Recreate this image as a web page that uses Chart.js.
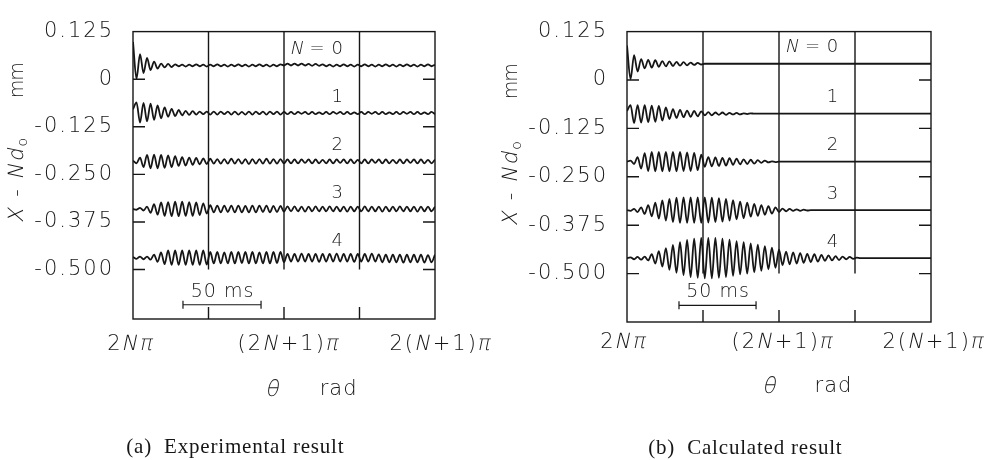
<!DOCTYPE html>
<html>
<head>
<meta charset="utf-8">
<script src="https://cdn.jsdelivr.net/npm/chart.js@4.4.0/dist/chart.umd.min.js"></script>
<style>
  html, body { margin: 0; padding: 0; background: #fff; }
  #wrap { position: relative; width: 1000px; height: 460px; }
  canvas { position: absolute; top: 0; }
  #chartA { left: 0; }
  #chartB { left: 500px; }
</style>
</head>
<body>
<div id="wrap">
  <canvas id="chartA" width="500" height="460"></canvas>
  <canvas id="chartB" width="500" height="460"></canvas>
</div>
<script>
// Axis ticks
const yTickValues = [0.125, 0, -0.125, -0.25, -0.375, -0.5];
const yTickLabels = ["0.125", "0", "-0.125", "-0.250", "-0.375", "-0.500"];
const xTickValues = [0, 1, 2];
const xTickLabels = ["2N\u03c0", "(2N+1)\u03c0", "2(N+1)\u03c0"];
const xGridValues = [0.5, 1, 1.5];
const traceNames = ["0", "1", "2", "3", "4"];

// One sample per half oscillation; x is (theta - 2N*pi) / pi
const X_MAX = 2;
const X_STEP = X_MAX / 86;

// Trace baselines, mm
const expBase = [0.036, -0.089, -0.216, -0.341, -0.469];
const calcBase = [0.042, -0.087, -0.211, -0.336, -0.46];

// Experimental traces: deviation from baseline at each half-cycle sample, um
const expN0 = [
   62,-35, 30,-20, 20,-12, 10, -8,  5, -5,  4, -4,
    3, -2,  2, -3,  2, -2,  3, -2,  2, -3,  2, -2,
    3, -2,  2, -3,  2, -2,  3, -2,  2, -3,  2, -2,
    3, -2,  2, -3,  2, -2,  3,  0,  5,  0,  5,  0,
    5,  0,  4, -1,  4, -1,  3, -2,  2, -3,  2, -2,
    3, -2,  2, -3,  2, -2,  3, -2,  2, -3,  2, -2,
    3, -2,  2, -3,  2, -2,  3, -2,  2, -3,  2, -2,
    3, -2,  2
];
const expN1 = [
   10, 28,-25, 27,-22, 25,-18, 20,-14, 15,-10, 11,
   -8,  8, -6,  6, -5,  5, -4,  4, -3,  4, -4,  4,
   -4,  4, -3,  4, -4,  4, -4,  3, -4,  4, -4,  4,
   -3,  4, -4,  4, -3,  4, -4,  3, -3,  3, -3,  3,
   -2,  3, -3,  3, -3,  2, -3,  3, -3,  3, -2,  3,
   -3,  3, -3,  2, -3,  3, -3,  3, -2,  3, -3,  3,
   -3,  2, -3,  3, -3,  3, -2,  3, -3,  3, -3,  2,
   -3,  3, -3
];
const expN2 = [
    2, -5, 10,-15, 17,-18, 18,-18, 17,-17, 16,-15,
   14,-12, 11,-11, 10, -9,  9, -8,  8, -7,  7, -6,
    6, -6,  6, -6,  7, -6,  6, -6,  6, -7,  6, -6,
    6, -6,  7, -6,  6, -6,  6, -5,  5, -5,  5, -5,
    5, -4,  5, -5,  5, -5,  4, -5,  5, -5,  5, -4,
    5, -5,  5, -5,  4, -5,  5, -5,  5, -4,  5, -5,
    5, -5,  4, -5,  5, -5,  5, -4,  5, -5,  5, -5,
    4, -5,  5
];
const expN3 = [
    0, -2,  3, -4,  6,-10, 13,-15, 17,-18, 18,-19,
   19,-19, 19,-18, 18,-18, 17,-16, 15,-12, 10, -9,
    9, -9,  9, -8,  9, -9,  9, -9,  8, -9,  9, -9,
    9, -8,  9, -9,  8, -8,  8, -7,  7, -6,  7, -6,
    6, -7,  6, -6,  7, -6,  6, -6,  7, -6,  6, -6,
    6, -7,  6, -6,  6, -6,  7, -6,  6, -6,  6, -7,
    6, -6,  6, -6,  7, -6,  6, -6,  6, -7,  6, -6,
    6, -6,  6
];
const expN4 = [
    2, -3,  3, -4,  3, -5,  8,-11, 14,-17, 19,-19,
   19,-19, 19,-19, 19,-19, 19,-19, 19,-18, 15,-15,
   15,-15, 14,-15, 15,-15, 15,-14, 15,-15, 15,-15,
   14,-15, 15,-15, 15,-14, 15,-12, 10,-10, 10,-10,
   11,-10, 10,-10, 10,-11, 10,-10, 10,-10, 11,-10,
   10,-10, 10,-11, 10,-10, 10,-10, 11,-10,  9,-12,
    8,-12,  8,-12,  8,-13,  8,-12,  8,-12,  8,-13,
    7,-12,  8
];

// Calculated traces: same sampling, flat once the oscillation has died out
const calcN0 = [47, -40, 22, -20, 12, -12, 10, -10, 9, -8, 7, -7, 6, -6, 5, -5, 4, -4, 3, -3, 2, -2, 0];
const calcN1 = [7, 22, -24, 22, -23, 22, -22, 21, -21, 20, -18, 16, -14, 12, -11, 10, -9, 8, -8, 7,
                -7, 6, -4, 4, -4, 3, -3, 3, -3, 2, -2, 2, -2, 1, -1, 1, 0];
const calcN2 = [0, 3, -6, 12, -18, 22, -24, 25, -25, 25, -25, 25, -25, 25, -25, 25, -24, 24, -24, 23,
                -22, 18, -13, 12, -12, 11, -11, 10, -10, 9, -8, 8, -7, 6, -6, 5, -5, 4, -3, 3,
                -2, 1, -1, 0];
const calcN3 = [0, -2, 3, -5, 7, -10, 13, -16, 19, -22, 25, -27, 29, -31, 32, -33, 33, -33, 33, -33,
                33, -33, 33, -32, 32, -31, 31, -30, 29, -27, 26, -24, 22, -21, 19, -17, 16, -15, 13, -12,
                10, -9, 7, -5, 4, -3, 3, -2, 2, -2, 1, -1, 0];
const calcN4 = [0, 2, -3, 3, -4, 4, -6, 10, -14, 18, -22, 26, -30, 34, -38, 41, -44, 47, -49, 50,
                -51, 52, -52, 52, -52, 52, -51, 50, -49, 48, -46, 44, -42, 41, -40, 38, -37, 35, -33, 31,
                -29, 27, -25, 22, -18, 17, -16, 15, -14, 13, -12, 11, -10, 10, -9, 8, -7, 7, -6, 5,
                -5, 4, -3, 3, -2, 1, 0];

const INK = "#161616";
const SANS = '"DejaVu Sans", sans-serif';
const SANS_WEIGHT = "200";
const SERIF = '"Liberation Serif", "Times New Roman", serif';

function tracePoints(base, devs) {
    const pts = devs.map((d, i) => ({ x: i * X_STEP, y: base + d / 1000 }));
    const last = pts[pts.length - 1];
    if (last.x < X_MAX - 1e-9) pts.push({ x: X_MAX, y: last.y });
    return pts;
}

// Draw a string one glyph at a time with extra spacing; chars listed in italics
// are slanted by shearing the light upright face
function drawSpaced(ctx, text, x, y, size, align, spacing, italics = "", family = SANS) {
    const chars = [...text];
    const weight = family === SANS ? SANS_WEIGHT + " " : "";
    ctx.font = weight + size + "px " + family;
    const widths = chars.map(c => ctx.measureText(c).width);
    const total = widths.reduce((a, b) => a + b, 0) + spacing * (chars.length - 1);
    let cx = align === "center" ? x - total / 2 : align === "right" ? x - total : x;
    ctx.textAlign = "left";
    chars.forEach((c, i) => {
        if (italics.includes(c)) {
            ctx.save();
            ctx.translate(cx, y);
            ctx.transform(1, 0, -0.21, 1, 0, 0);
            ctx.fillText(c, 0, 0);
            ctx.restore();
        } else {
            ctx.fillText(c, cx, y);
        }
        cx += widths[i] + spacing;
    });
    return total;
}

// Box, grid, inner ticks and all annotation text of one panel
const panelDecor = {
    id: "panelDecor",
    beforeDraw(chart) {
        chart.ctx.letterSpacing = "2px";
    },
    afterDraw(chart, args, opts) {
        const { ctx, chartArea: a } = chart;
        const xs = chart.scales.x, ys = chart.scales.y;
        ctx.save();
        ctx.letterSpacing = "0px";
        ctx.strokeStyle = INK;
        ctx.fillStyle = INK;
        ctx.lineWidth = 1.4;

        ctx.strokeRect(a.left, a.top, a.right - a.left, a.bottom - a.top);

        ctx.beginPath();
        xGridValues.forEach(v => {
            const px = xs.getPixelForValue(v);
            ctx.moveTo(px, a.top);
            ctx.lineTo(px, ys.getPixelForValue(-0.5));
            ctx.moveTo(px, a.bottom);
            ctx.lineTo(px, a.bottom - 12);
        });
        yTickValues.slice(1).forEach(v => {
            const py = ys.getPixelForValue(v);
            ctx.moveTo(a.left, py);
            ctx.lineTo(a.left + 12, py);
            ctx.moveTo(a.right, py);
            ctx.lineTo(a.right - 12, py);
        });
        ctx.stroke();

        // 50 ms time scale
        const [b0, b1, bv] = opts.scaleBar;
        const bx0 = xs.getPixelForValue(b0), bx1 = xs.getPixelForValue(b1), by = ys.getPixelForValue(bv);
        ctx.lineWidth = 1.2;
        ctx.beginPath();
        ctx.moveTo(bx0, by); ctx.lineTo(bx1, by);
        ctx.moveTo(bx0, by - 4); ctx.lineTo(bx0, by + 4);
        ctx.moveTo(bx1, by - 4); ctx.lineTo(bx1, by + 4);
        ctx.stroke();
        ctx.textBaseline = "middle";
        drawSpaced(ctx, "50 ms", (bx0 + bx1) / 2, by - 13, 19, "center", 1);

        // Trace numbers
        opts.bases.forEach((b, i) => {
            const px = xs.getPixelForValue(1.352), py = ys.getPixelForValue(b + 0.042);
            drawSpaced(ctx, traceNames[i], px, py, 18, "center", 0);
            if (i === 0) {
                ctx.font = SANS_WEIGHT + " 18px " + SANS;
                const w0 = ctx.measureText("0").width;
                drawSpaced(ctx, "N = ", px - w0 / 2 - 1, py, 18, "right", 0, "N");
            }
        });

        // Theta axis labels
        xTickValues.forEach((v, i) => {
            drawSpaced(ctx, xTickLabels[i], xs.getPixelForValue(v) + opts.xTickShift[i],
                a.bottom + opts.xTickDy, 21, "center", 2, "N\u03c0");
        });
        drawSpaced(ctx, "\u03b8", xs.getPixelForValue(opts.thetaX), a.bottom + opts.titleDy, 22, "center", 0, "\u03b8");
        drawSpaced(ctx, "rad", xs.getPixelForValue(opts.radX), a.bottom + opts.titleDy, 21, "center", 1);

        // Rotated displacement title
        ctx.save();
        ctx.translate(a.left - 115, ys.getPixelForValue(-0.375));
        ctx.rotate(-Math.PI / 2);
        let w = drawSpaced(ctx, "X - Nd", 0, 0, 21, "left", 2, "XNd");
        drawSpaced(ctx, "o", w + 1, 5, 14, "left", 0);
        ctx.restore();
        ctx.save();
        ctx.translate(a.left - 115, ys.getPixelForValue(-0.05));
        ctx.rotate(-Math.PI / 2);
        drawSpaced(ctx, "mm", 0, 0, 19, "left", -1);
        ctx.restore();

        // Caption
        drawSpaced(ctx, opts.caption, xs.getPixelForValue(opts.captionX), a.bottom + opts.captionDy,
            21, "center", 0.8, "", SERIF);
        ctx.restore();
    }
};

function makePanel(canvasId, bases, traces, yMin, padding, axisWidth, decor) {
    return new Chart(document.getElementById(canvasId), {
        type: "line",
        data: {
            datasets: traces.map((t, i) => ({
                label: "N = " + traceNames[i],
                data: tracePoints(bases[i], t),
                borderColor: INK,
                borderWidth: 1.8,
                pointRadius: 0,
                fill: false,
                cubicInterpolationMode: "monotone"
            }))
        },
        options: {
            responsive: false,
            animation: false,
            events: [],
            layout: { padding: padding },
            plugins: { legend: { display: false }, tooltip: { enabled: false }, panelDecor: decor },
            scales: {
                x: { type: "linear", min: 0, max: X_MAX, display: false },
                y: {
                    type: "linear",
                    min: yMin,
                    max: 0.125,
                    afterBuildTicks: s => { s.ticks = yTickValues.map(v => ({ value: v })); },
                    afterFit: s => { s.width = axisWidth; },
                    grid: { display: false, drawTicks: false },
                    border: { display: false },
                    ticks: {
                        padding: 19,
                        color: INK,
                        font: { family: SANS, size: 21, weight: SANS_WEIGHT },
                        callback: v => yTickLabels[yTickValues.indexOf(v)]
                    }
                }
            }
        },
        plugins: [panelDecor]
    });
}

makePanel("chartA", expBase, [expN0, expN1, expN2, expN3, expN4], -0.63,
    { top: 16, right: 65, bottom: 141, left: 0 }, 133, {
        bases: expBase,
        scaleBar: [0.331, 0.848, -0.5925],
        xTickShift: [-3, 4, 5],
        xTickDy: 26, titleDy: 71, captionDy: 128,
        thetaX: 0.927, radX: 1.358,
        caption: "(a)  Experimental result", captionX: 0.675
    });

makePanel("chartB", calcBase, [calcN0, calcN1, calcN2, calcN3, calcN4], -0.625,
    { top: 21, right: 69, bottom: 138, left: 0 }, 127, {
        bases: calcBase,
        scaleBar: [0.342, 0.849, -0.582],
        xTickShift: [-4, 3, 2],
        xTickDy: 21, titleDy: 65, captionDy: 126,
        thetaX: 0.94, radX: 1.355,
        caption: "(b)  Calculated result", captionX: 0.776
    });
</script>
</body>
</html>
